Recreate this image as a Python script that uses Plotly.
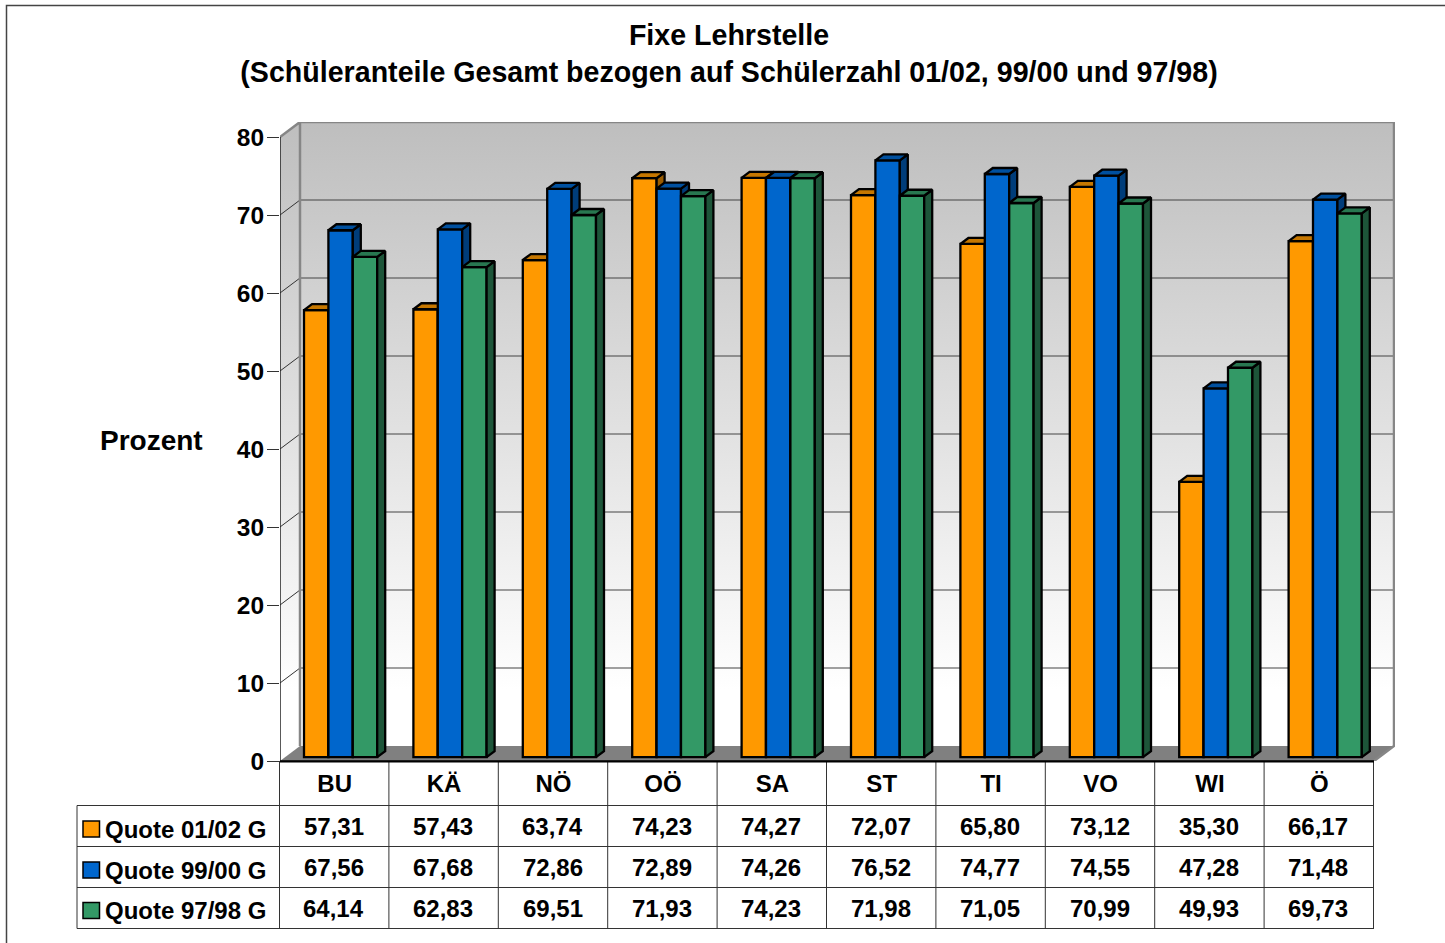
import plotly.graph_objects as go

categories = ["BU", "KÄ", "NÖ", "OÖ", "SA", "ST", "TI", "VO", "WI", "Ö"]
series_names = ["Quote 01/02 G", "Quote 99/00 G", "Quote 97/98 G"]
quote_0102 = [57.31, 57.43, 63.74, 74.23, 74.27, 72.07, 65.80, 73.12, 35.30, 66.17]
quote_9900 = [67.56, 67.68, 72.86, 72.89, 74.26, 76.52, 74.77, 74.55, 47.28, 71.48]
quote_9798 = [64.14, 62.83, 69.51, 71.93, 74.23, 71.98, 71.05, 70.99, 49.93, 69.73]
y_ticks = [0, 10, 20, 30, 40, 50, 60, 70, 80]

series_values = [quote_0102, quote_9900, quote_9798]
front = ["#FF9900", "#0066CC", "#339966"]
top = ["#C67700", "#00509F", "#287750"]
side = ["#9A5C00", "#003D7A", "#1D5539"]

W, H = 1445, 943
FONT = "Liberation Sans"
PX_X = 109.4          # pixels per category
PX_Y = 7.8            # pixels per percent
X0, X1, Y0, Y1 = 280, 1395, 761, 122
x_range = [-0.5, -0.5 + (X1 - X0) / PX_X]
y_range = [0, (Y0 - Y1) / PX_Y]
WALL_DX, WALL_DY = 20 / PX_X, 15 / PX_Y
BAR_DX, BAR_DY = 8 / PX_X, 6 / PX_Y
BAR_BASE = 3.8 / PX_Y
BAR_W = 24.4 / PX_X
BAR_START = -30.7 / PX_X
EDGE = 2.3
xl, xr = -0.5, 9.5
bx, by = xl + WALL_DX, WALL_DY


def px(x):
    return x / W


def py(y):
    return 1 - y / H


fig = go.Figure()
wall_scale = [[0, "#FFFFFF"], [1, "#BEBEBE"]]
# left wall
fig.add_trace(go.Scatter(
    x=[xl, bx, bx, xl, xl], y=[0, by, 80 + by, 80, 0], mode="lines", fill="toself",
    line=dict(width=0), hoverinfo="skip",
    fillgradient=dict(type="vertical", colorscale=wall_scale, start=9.1, stop=80 + by)))
# back wall
fig.add_trace(go.Scatter(
    x=[bx, xr + WALL_DX, xr + WALL_DX, bx, bx], y=[by, by, 80 + by, 80 + by, by],
    mode="lines", fill="toself", line=dict(width=0), hoverinfo="skip",
    fillgradient=dict(type="vertical", colorscale=wall_scale, start=9.1, stop=80 + by)))
# floor
fig.add_trace(go.Scatter(
    x=[xl, xr, xr + WALL_DX, bx, xl], y=[0, 0, by, by, 0], mode="lines", fill="toself",
    fillcolor="#808080", line=dict(width=0), hoverinfo="skip"))
# gridlines
gx, gy, dx_, dy_ = [], [], [], []
for v in y_ticks:
    if v not in (0, 80):
        gx += [bx, xr + WALL_DX, None]
        gy += [v + by, v + by, None]
    if v != 0:
        dx_ += [xl, bx, None]
        dy_ += [v, v + by, None]
fig.add_trace(go.Scatter(x=gx, y=gy, mode="lines", line=dict(color="#444444", width=1.2), hoverinfo="skip"))
fig.add_trace(go.Scatter(x=dx_[:-3], y=dy_[:-3], mode="lines", line=dict(color="#333333", width=1), hoverinfo="skip"))
# wall edges
fig.add_trace(go.Scatter(
    x=[xl, bx, bx, None, bx, xr + WALL_DX, xr + WALL_DX, xr],
    y=[80, 80 + by, by, None, 80 + by, 80 + by, by, 0],
    mode="lines", line=dict(color="#868686", width=2.5), hoverinfo="skip"))
fig.add_trace(go.Scatter(
    x=[xl, xl, None, xl, xr], y=[80, 0, None, 0, 0], mode="lines",
    line=dict(color="#222222", width=1.5), hoverinfo="skip"))

for i, vals in enumerate(series_values):
    axn = str(i + 2)
    xa, ya = "x" + axn, "y" + axn
    offset = BAR_START + i * BAR_W
    fig.add_trace(go.Bar(
        x=list(range(len(categories))), y=vals, base=BAR_BASE, width=BAR_W, offset=offset,
        name=series_names[i], marker=dict(color=front[i], line=dict(color="#000000", width=EDGE)),
        xaxis=xa, yaxis=ya))
    tx, ty, sx, sy = [], [], [], []
    for j, v in enumerate(vals):
        l = j + offset
        r = l + BAR_W
        t = v + BAR_BASE
        tx += [l, l + BAR_DX, r + BAR_DX, r, l, None]
        ty += [t, t + BAR_DY, t + BAR_DY, t, t, None]
        sx += [r, r + BAR_DX, r + BAR_DX, r, r, None]
        sy += [BAR_BASE, BAR_BASE + BAR_DY, t + BAR_DY, t, BAR_BASE, None]
    for px_, py_, c in ((sx, sy, side[i]), (tx, ty, top[i])):
        fig.add_trace(go.Scatter(
            x=px_, y=py_, mode="lines", fill="toself", fillcolor=c,
            line=dict(color="#000000", width=EDGE), xaxis=xa, yaxis=ya, hoverinfo="skip"))

shapes = []


def hline(x0, x1, y):
    shapes.append(dict(type="line", xref="paper", yref="paper", x0=px(x0), x1=px(x1),
                       y0=py(y), y1=py(y), line=dict(color="#333333", width=1)))


def vline(x, y0, y1):
    shapes.append(dict(type="line", xref="paper", yref="paper", x0=px(x), x1=px(x),
                       y0=py(y0), y1=py(y1), line=dict(color="#333333", width=1)))


row_lines = [805.5, 846.5, 887.5, 928.5]
for y in row_lines:
    hline(77, 1374, y)
vline(77, 805.5, 928.5)
for j in range(11):
    vline(X0 - 0.5 + j * PX_X, 761, 928.5)
shapes.append(dict(type="line", xref="paper", yref="paper", x0=px(X0), x1=px(1374),
                   y0=py(761.5), y1=py(761.5), line=dict(color="#000000", width=2)))
# outer frame of the chart
shapes.append(dict(type="path", xref="paper", yref="paper",
                   path=f"M {px(1445)} {py(5.5)} L {px(6.5)} {py(5.5)} L {px(6.5)} {py(943)}",
                   line=dict(color="#444444", width=1.5)))

annotations = []


def label(text, x, y, size=24, xanchor="center", xref="paper"):
    annotations.append(dict(text="<b>" + text + "</b>", x=x, y=py(y), xref=xref, yref="paper",
                            xanchor=xanchor, yanchor="middle", showarrow=False,
                            font=dict(family=FONT, size=size, color="#000000"), borderpad=0))


label("Prozent", px(151.5), 440.5, size=28)
key_y = [829, 870, 910.5]
text_y = [826, 867, 908]
for i, vals in enumerate(series_values):
    shapes.append(dict(type="rect", xref="paper", yref="paper", x0=px(83), x1=px(99.5),
                       y0=py(key_y[i] - 8), y1=py(key_y[i] + 8), fillcolor=front[i],
                       line=dict(color="#000000", width=1.5)))
    label(series_names[i], px(103.5), key_y[i], xanchor="left")
    for j, v in enumerate(vals):
        label(f"{v:.2f}".replace(".", ","), j - 0.009, text_y[i], xref="x")

layout_axes = {}
for i in range(3):
    n = str(i + 2)
    layout_axes["xaxis" + n] = dict(overlaying="x", range=x_range, visible=False, fixedrange=True)
    layout_axes["yaxis" + n] = dict(overlaying="y", range=y_range, visible=False, fixedrange=True)

fig.update_layout(
    width=W, height=H, margin=dict(l=0, r=0, t=0, b=0, pad=0, autoexpand=False),
    paper_bgcolor="#FFFFFF", plot_bgcolor="rgba(0,0,0,0)", showlegend=False,
    title=dict(text="<b>Fixe Lehrstelle<br>(Schüleranteile Gesamt bezogen auf Schülerzahl 01/02, 99/00 und 97/98)</b>",
               x=729 / W, xanchor="center", y=py(45), yanchor="middle",
               font=dict(family=FONT, size=28.6, color="#000000")),
    xaxis=dict(domain=[px(X0), px(X1)], range=x_range, tickmode="array",
               tickvals=list(range(len(categories))), ticktext=["<b>" + c + "</b>" for c in categories],
               ticks="", showgrid=False, zeroline=False, showline=False, ticklabelstandoff=6,
               tickfont=dict(family=FONT, size=24, color="#000000")),
    yaxis=dict(domain=[py(Y0), py(Y1)], range=y_range, tickmode="array", tickvals=y_ticks,
               ticktext=[f"<b>{v}</b>" for v in y_ticks], ticks="outside", ticklen=12, tickwidth=1,
               tickcolor="#333333", showgrid=False, zeroline=False, showline=False,
               ticklabelstandoff=-2, tickfont=dict(family=FONT, size=24.5, color="#000000")),
    shapes=shapes, annotations=annotations, **layout_axes)

fig.write_html("out.html", config=dict(displayModeBar=False), post_script=
    "document.body.style.margin='0';document.documentElement.style.overflow='hidden';")
